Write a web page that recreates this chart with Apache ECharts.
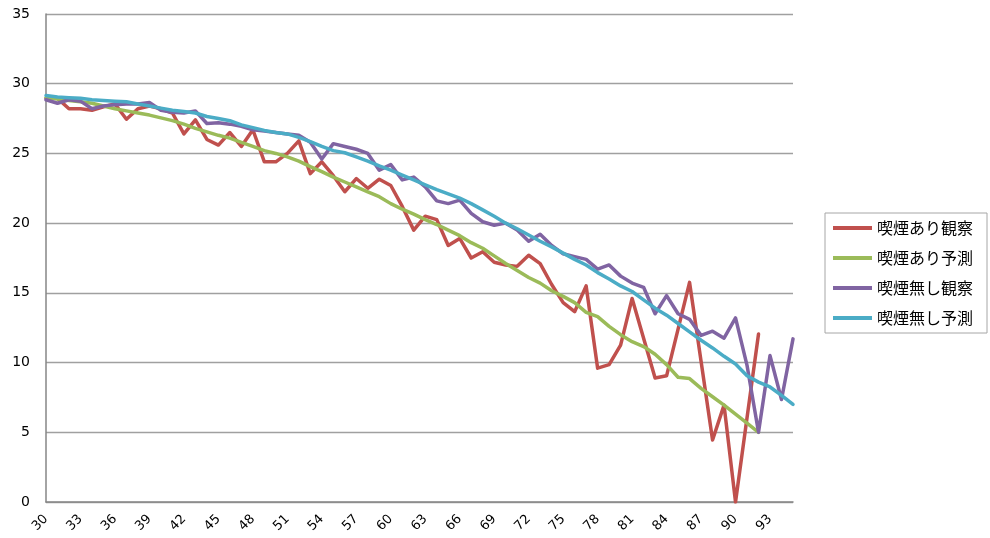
<!DOCTYPE html>
<html>
<head>
<meta charset="utf-8">
<script src="https://cdn.jsdelivr.net/npm/echarts@6/dist/echarts.min.js"></script>
<style>
html,body{margin:0;padding:0;background:#ffffff;}
#chart{width:990px;height:538px;}
</style>
</head>
<body>
<div id="chart"></div>
<script>
// Categories (age)
const categories = ['30','31','32','33','34','35','36','37','38','39','40','41','42','43','44','45','46','47','48','49','50','51','52','53','54','55','56','57','58','59','60','61','62','63','64','65','66','67','68','69','70','71','72','73','74','75','76','77','78','79','80','81','82','83','84','85','86','87','88','89','90','91','92','93','94','95'];

const seriesNames = ['喫煙あり観察','喫煙あり予測','喫煙無し観察','喫煙無し予測'];

// 喫煙あり観察 (ages 30-92)
const smokerObserved = [28.95,28.95,28.2,28.2,28.1,28.35,28.55,27.45,28.2,28.4,28.2,27.9,26.4,27.4,26.0,25.6,26.5,25.5,26.7,24.4,24.4,25.0,25.9,23.55,24.4,23.4,22.25,23.2,22.5,23.15,22.7,21.2,19.5,20.5,20.25,18.4,18.9,17.5,17.95,17.2,17.0,16.9,17.7,17.1,15.6,14.3,13.65,15.5,9.6,9.85,11.25,14.6,11.75,8.9,9.05,12.4,15.75,10.1,4.45,6.95,0,6.05,12.05,null,null,null];

// 喫煙あり予測 (ages 30-92)
const smokerPredicted = [29.0,28.9,28.8,28.7,28.6,28.4,28.2,28.05,27.9,27.75,27.55,27.35,27.1,26.8,26.55,26.3,26.1,25.8,25.5,25.2,25.0,24.75,24.45,24.05,23.7,23.3,22.95,22.6,22.25,21.9,21.4,21.0,20.65,20.25,19.9,19.5,19.1,18.6,18.2,17.65,17.1,16.6,16.1,15.7,15.15,14.75,14.3,13.6,13.3,12.6,12.0,11.5,11.15,10.6,9.85,8.95,8.85,8.15,7.55,6.95,6.3,5.65,5.0,null,null,null];

// 喫煙無し観察 (ages 30-95)
const nonSmokerObserved = [28.85,28.6,28.85,28.75,28.2,28.4,28.5,28.55,28.55,28.65,28.1,27.95,27.9,28.05,27.15,27.2,27.1,26.95,26.7,26.6,26.5,26.4,26.3,25.8,24.6,25.7,25.5,25.3,25.0,23.8,24.2,23.1,23.3,22.6,21.6,21.4,21.65,20.7,20.1,19.85,20.0,19.5,18.7,19.2,18.4,17.8,17.6,17.4,16.7,17.0,16.2,15.7,15.4,13.5,14.8,13.5,13.1,11.95,12.25,11.75,13.2,9.8,5.0,10.5,7.35,11.7];

// 喫煙無し予測 (ages 30-95)
const nonSmokerPredicted = [29.15,29.05,29.0,28.95,28.85,28.8,28.75,28.7,28.55,28.4,28.25,28.1,28.0,27.9,27.65,27.5,27.35,27.05,26.85,26.65,26.5,26.4,26.15,25.85,25.5,25.2,25.05,24.75,24.45,24.1,23.8,23.45,23.1,22.75,22.4,22.1,21.8,21.4,20.95,20.5,20.0,19.6,19.15,18.7,18.3,17.85,17.4,17.0,16.45,16.0,15.5,15.1,14.5,13.9,13.4,12.8,12.2,11.6,11.05,10.45,9.9,9.05,8.6,8.25,7.65,7.0];

const colors = ['#C0504D','#9BBB59','#8064A2','#4BACC6'];
const seriesData = [smokerObserved, smokerPredicted, nonSmokerObserved, nonSmokerPredicted];

const chart = echarts.init(document.getElementById('chart'), null, {renderer:'canvas'});

const series = seriesNames.map((name, i) => ({
  name: name,
  type: 'line',
  data: seriesData[i],
  symbol: 'none',
  showSymbol: false,
  connectNulls: false,
  animation: false,
  lineStyle: {color: colors[i], width: 3.5, cap: 'round', join: 'round'},
  itemStyle: {color: colors[i]}
}));

chart.setOption({
  animation: false,
  backgroundColor: '#ffffff',
  color: colors,
  grid: {left: 46, right: 197, top: 14, bottom: 36, containLabel: false},
  legend: {
    orient: 'vertical',
    left: 825,
    top: 213,
    data: seriesNames.map(n => ({name: n, icon: 'rect'})),
    itemWidth: 39,
    itemHeight: 4,
    itemGap: 10,
    padding: [5, 14, 5, 8],
    borderColor: '#a6a6a6',
    borderWidth: 1,
    textStyle: {fontFamily: '"Noto Sans CJK JP", sans-serif', fontSize: 16, color: '#000', lineHeight: 20}
  },
  xAxis: {
    type: 'category',
    data: categories,
    boundaryGap: false,
    axisLine: {show: true, lineStyle: {color: '#868686', width: 1.5}},
    axisTick: {show: false},
    splitLine: {show: false},
    axisLabel: {
      interval: 2,
      rotate: 45,
      margin: 15,
      fontFamily: '"DejaVu Sans", sans-serif',
      fontSize: 13,
      color: '#000'
    }
  },
  yAxis: {
    type: 'value',
    min: 0,
    max: 35,
    interval: 5,
    axisLine: {show: true, lineStyle: {color: '#868686', width: 1.5}},
    axisTick: {show: false},
    splitLine: {show: true, lineStyle: {color: '#a0a0a0', width: 1.3}},
    axisLabel: {
      margin: 16,
      fontFamily: '"DejaVu Sans", sans-serif',
      fontSize: 14,
      color: '#000'
    }
  },
  series: series
});
</script>
</body>
</html>
